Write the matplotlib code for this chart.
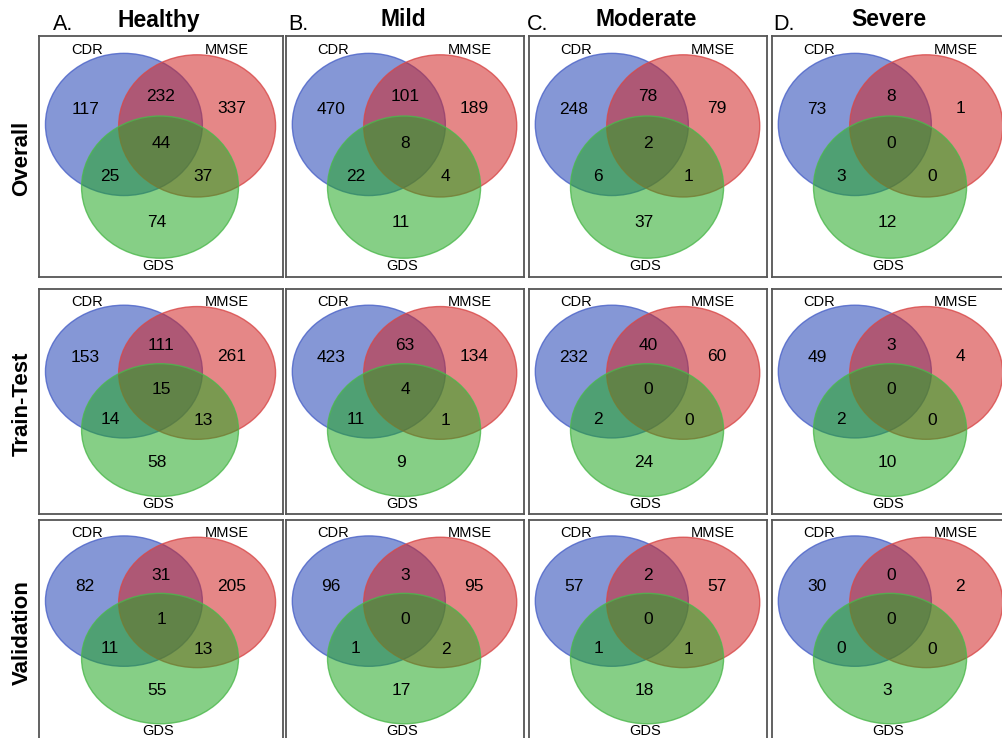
import matplotlib.pyplot as plt
from matplotlib.patches import Ellipse

plt.rcParams['font.family'] = ['Liberation Sans', 'DejaVu Sans']

# region order: CDR only, MMSE only, GDS only, CDR&MMSE, CDR&GDS, MMSE&GDS, all three
sets = ["CDR", "MMSE", "GDS"]
severity = ["Healthy", "Mild", "Moderate", "Severe"]
letters = ["A.", "B.", "C.", "D."]
splits = ["Overall", "Train-Test", "Validation"]

overall = [
    [117, 337, 74, 232, 25, 37, 44],
    [470, 189, 11, 101, 22, 4, 8],
    [248, 79, 37, 78, 6, 1, 2],
    [73, 1, 12, 8, 3, 0, 0],
]
train_test = [
    [153, 261, 58, 111, 14, 13, 15],
    [423, 134, 9, 63, 11, 1, 4],
    [232, 60, 24, 40, 2, 0, 0],
    [49, 4, 10, 3, 2, 0, 0],
]
validation = [
    [82, 205, 55, 31, 11, 13, 1],
    [96, 95, 17, 3, 1, 2, 0],
    [57, 57, 18, 2, 1, 1, 0],
    [30, 2, 3, 0, 0, 0, 0],
]
counts = [overall, train_test, validation]

W, H = 1003, 738
col_x = [(39, 283), (286, 524), (529, 767), (772, 1010)]
row_y = [(36, 277), (289, 514), (520, 741)]

fills = ["#2142b5", "#d02525", "#23a823"]
edges = ["#4a62c8", "#d84848", "#4cb84c"]
centers = [(0.348, 0.633), (0.648, 0.627), (0.496, 0.373)]
ew, eh = 0.643, 0.59
label_pos = [(0.197, 0.942), (0.77, 0.942), (0.49, 0.045)]
num_pos = [(0.189, 0.697), (0.79, 0.70), (0.484, 0.228),
           (0.50, 0.747), (0.291, 0.419), (0.672, 0.415), (0.50, 0.552)]

fig = plt.figure(figsize=(W / 100, H / 100), dpi=100)

for r, (y0, y1) in enumerate(row_y):
    for c, (x0, x1) in enumerate(col_x):
        ax = fig.add_axes([x0 / W, 1 - y1 / H, (x1 - x0) / W, (y1 - y0) / H])
        ax.set_xlim(0, 1)
        ax.set_ylim(0, 1)
        ax.set_xticks([])
        ax.set_yticks([])
        for s in ax.spines.values():
            s.set_color("#555555")
            s.set_linewidth(1.3)
        for (cx, cy), fc, ec in zip(centers, fills, edges):
            ax.add_patch(Ellipse((cx, cy), ew, eh, facecolor=fc, alpha=0.55,
                                 edgecolor="none"))
            ax.add_patch(Ellipse((cx, cy), ew, eh, facecolor="none",
                                 edgecolor=ec, lw=1.0, alpha=0.8))
        for name, (lx, ly) in zip(sets, label_pos):
            ax.text(lx, ly, name, ha="center", va="center", fontsize=10.5)
        for val, (nx, ny) in zip(counts[r][c], num_pos):
            ax.text(nx, ny, str(val), ha="center", va="center", fontsize=12.5)

# column headers
letter_x = [53, 288, 527, 773]
for c, (x0, x1) in enumerate(col_x):
    fig.text(letter_x[c] / W, 1 - 24 / H, letters[c], ha="left", va="center",
             fontsize=15.5)
    fig.text(((x0 + x1) / 2 - 2) / W, 1 - 20 / H, severity[c], ha="center",
             va="center", fontsize=16.5, fontweight="bold")

# row headers
for r, (y0, y1) in enumerate(row_y):
    fig.text(22 / W, 1 - ((y0 + y1) / 2 + 2) / H, splits[r], ha="center",
             va="center", rotation=90, fontsize=16, fontweight="bold")

fig.savefig("out.png", dpi=100)
